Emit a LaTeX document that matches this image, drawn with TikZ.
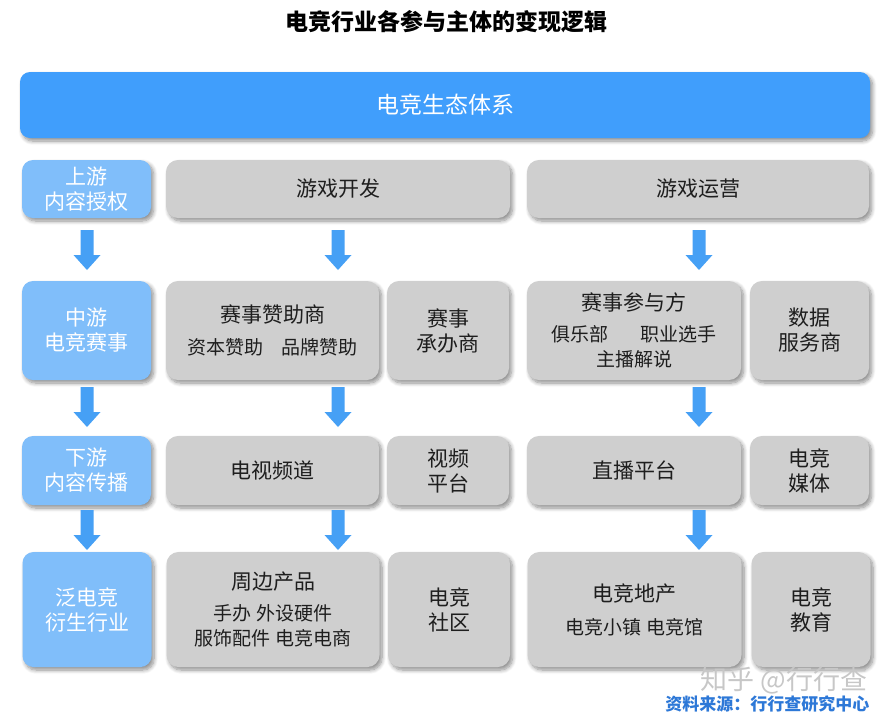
\documentclass[tikz,border=0pt]{standalone}
\usepackage{fontspec}
\setmainfont{Noto Sans CJK SC}
\usetikzlibrary{shadows.blur}
\definecolor{topblue}{RGB}{64,158,252}
\definecolor{lightblue}{RGB}{128,190,250}
\definecolor{arrowblue}{RGB}{70,160,245}
\definecolor{boxgray}{RGB}{207,207,207}
\definecolor{txtdark}{RGB}{30,30,30}
\definecolor{srcblue}{RGB}{45,120,215}
\tikzset{
  shadowed/.style={blur shadow={shadow xshift=2.5pt, shadow yshift=-3pt, shadow blur steps=8, shadow opacity=45, shadow blur radius=4pt}},
  gbox/.style={shadowed, fill=boxgray, rounded corners=12pt, text=txtdark, align=center, inner sep=0pt,
    font=\fontsize{21}{25}\selectfont},
  bbox/.style={shadowed, fill=lightblue, rounded corners=11pt, text=white, align=center, inner sep=0pt,
    font=\fontsize{21}{25}\selectfont},
  barrow/.pic={\fill[arrowblue] (-6.5,0) -- (6.5,0) -- (6.5,-25) -- (13.5,-25) -- (0,-40) -- (-13.5,-25) -- (-6.5,-25) -- cycle;}
}
\newcommand{\subtxt}{\fontsize{19}{24}\selectfont}
\begin{document}
\begin{tikzpicture}[x=1pt,y=1pt]
\useasboundingbox (0,0) rectangle (893,-718);
% title
\node[font=\fontsize{23}{26}\selectfont\bfseries, text=black] (title) at (446,-22) {电竞行业各参与主体的变现逻辑};
% top bar
\node[shadowed, fill=topblue, rounded corners=10pt, minimum width=850pt, minimum height=66pt, inner sep=0pt,
  text=white, font=\fontsize{23}{26}\selectfont] (eco) at (445,-105) {电竞生态体系};
% row 1
\node[bbox, minimum width=129pt, minimum height=58pt] (up) at (86.5,-189) {上游\\内容授权};
\node[gbox, minimum width=344pt, minimum height=58pt] (dev) at (338,-189) {游戏开发};
\node[gbox, minimum width=342pt, minimum height=58pt] (ops) at (698,-189) {游戏运营};
% row 2
\node[bbox, minimum width=129pt, minimum height=99pt] (mid) at (86.5,-330.5) {中游\\电竞赛事};
\node[gbox, minimum width=213pt, minimum height=99pt] (spon) at (272.5,-330.5)
  {赛事赞助商\\[7pt]\subtxt 资本赞助\hspace{18pt}品牌赞助};
\node[gbox, minimum width=122pt, minimum height=99pt] (host) at (448,-330.5) {赛事\\承办商};
\node[gbox, minimum width=214pt, minimum height=99pt] (part) at (634,-330.5)
  {赛事参与方\\[6pt]\subtxt 俱乐部\hspace{32pt}职业选手\\\subtxt 主播解说};
\node[gbox, minimum width=119pt, minimum height=99pt] (data) at (809.5,-330.5) {数据\\服务商};
% row 3
\node[bbox, minimum width=129pt, minimum height=69pt] (down) at (86.5,-470.5) {下游\\内容传播};
\node[gbox, minimum width=213pt, minimum height=69pt] (tv) at (272.5,-470.5) {电视频道};
\node[gbox, minimum width=122pt, minimum height=69pt] (video) at (448,-470.5) {视频\\平台};
\node[gbox, minimum width=214pt, minimum height=69pt] (live) at (634,-470.5) {直播平台};
\node[gbox, minimum width=119pt, minimum height=69pt] (media) at (809.5,-470.5) {电竞\\媒体};
% row 4
\node[bbox, minimum width=129pt, minimum height=115pt] (pan) at (87,-609.5) {泛电竞\\衍生行业};
\node[gbox, minimum width=213pt, minimum height=115pt] (merch) at (273,-609.5)
  {周边产品\\[6pt]\subtxt 手办 外设硬件\\\subtxt 服饰配件 电竞电商};
\node[gbox, minimum width=122pt, minimum height=115pt] (comm) at (449,-609.5) {电竞\\社区};
\node[gbox, minimum width=214pt, minimum height=115pt] (estate) at (634.5,-609.5)
  {电竞地产\\[8pt]\subtxt 电竞小镇 电竞馆};
\node[gbox, minimum width=119pt, minimum height=115pt] (edu) at (811,-609.5) {电竞\\教育};
% arrows
\foreach \xx in {87,338,699} {
  \pic at (\xx,-230) {barrow};
  \pic at (\xx,-387) {barrow};
  \pic at (\xx,-510) {barrow};
}
% watermark and source
\node[text=black!22, font=\fontsize{27}{30}\selectfont, anchor=east] (wm) at (871,-680) {知乎 @行行查};
\node[text=srcblue, font=\fontsize{17}{20}\selectfont\bfseries, anchor=east] (src) at (873,-704) {资料来源：行行查研究中心};
\end{tikzpicture}
\end{document}
